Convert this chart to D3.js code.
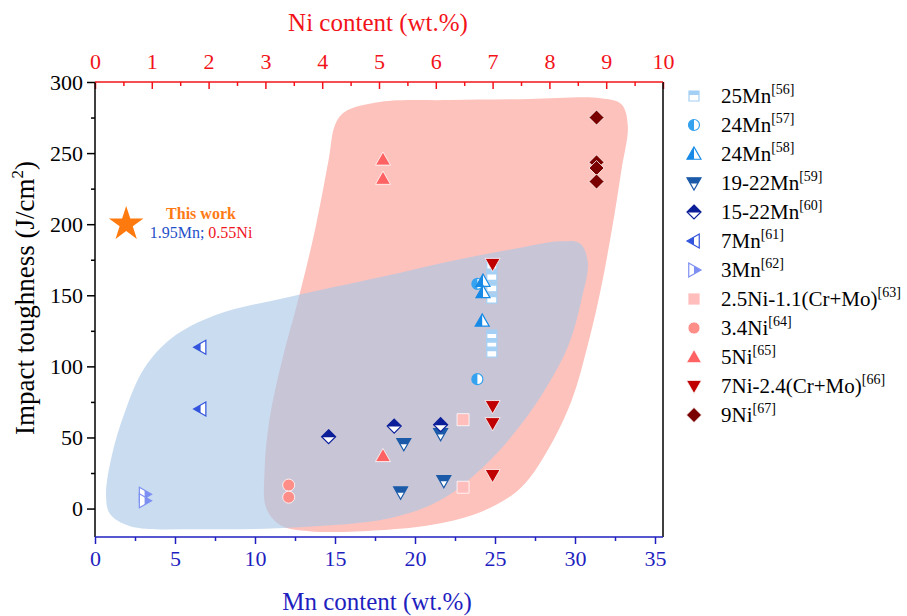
<!DOCTYPE html>
<html><head><meta charset="utf-8">
<script src="https://cdn.jsdelivr.net/npm/d3@7"></script>
<style>body{margin:0;background:#fff}</style>
</head><body>
<svg id="chart" width="907" height="616"></svg>
<script>
// Mn steels: [Mn wt.%, impact toughness J/cm2]
const mn25 = [[24.8,172],[24.8,164],[24.8,156],[24.8,148],[24.8,122],[24.8,116],[24.8,110]];
const mn24a = [[23.9,158],[23.9,91]];
const mn24b = [[24.25,160],[24.25,152],[24.2,132]];
const mn19_22 = [[19.3,45.5],[19.1,11.5],[21.8,19.5],[21.6,52.5]];
const mn15_22 = [[14.6,50.5],[18.7,58],[21.6,59]];
const mn7 = [[6.6,113.5],[6.6,70]];
const mn3 = [[3.1,10],[3.1,5.5]];
// Ni steels: [Ni wt.%, impact toughness J/cm2]
const ni25 = [[6.48,62.5],[6.48,15]];
const ni34 = [[3.41,16.5],[3.41,8]];
const ni5 = [[5.07,245.5],[5.07,232],[5.07,37]];
const ni7 = [[7.0,172],[7.0,72],[7.0,60],[7.0,23.5]];
const ni9 = [[8.83,275],[8.83,243.5],[8.83,239.5],[8.83,230]];
// This work
const thisWork = [1.95, 200];

// Axis ticks
const mnTicks = [0,5,10,15,20,25,30,35];
const niTicks = [0,1,2,3,4,5,6,7,8,9,10];
const tTicks = [0,50,100,150,200,250,300];

// Legend entries
const names = ["25Mn","24Mn","24Mn","19-22Mn","15-22Mn","7Mn","3Mn","2.5Ni-1.1(Cr+Mo)","3.4Ni","5Ni","7Ni-2.4(Cr+Mo)","9Ni"];
const refs = ["56","57","58","59","60","61","62","63","64","65","66","67"];

// Outlines of the Mn-steel and Ni-steel regions, in (Mn wt.%, toughness)
const mnRegion = [[0.69,9.6],[1.06,37.7],[1.9,69],[3.1,99],[4.8,120],[7.5,136],[12.2,149],[17.8,162.7],[22.2,174],[25.9,182],[29.1,188],[30.3,186.6],[30.8,173.4],[30.4,146.7],[29.6,115],[28.3,86.9],[26.6,58.8],[24.4,30.7],[21.6,6],[18.4,-6.8],[12.8,-13.1],[6.6,-14.5],[2.2,-12.4],[0.94,-3.9]];
const niRegion = [[15.6,278.9],[17.8,285.9],[22.2,287.3],[27.2,288],[31.6,288.6],[32.9,284.4],[33.3,269.6],[32.9,238],[32.3,195.9],[31.6,153.7],[30.8,115],[29.8,76.4],[28.3,41.2],[26.6,14.5],[24.4,-1],[21.6,-10.3],[17.8,-15.2],[13.4,-15.9],[11.6,-11.7],[10.7,0.4],[10.6,27.1],[10.9,62.4],[11.7,104.6],[12.7,146.8],[13.75,196],[14.6,245.1],[15,269.7]];

const W = 907, H = 616;
const L = 95, R = 663, T = 82, B = 537;
const x = d3.scaleLinear().domain([0, 35.5]).range([L, R]);
const xNi = d3.scaleLinear().domain([0, 10]).range([L, R]);
const y = d3.scaleLinear().domain([-20, 300]).range([B, T]);

const RED = "#f2131a", BLUE = "#1f1fc0";
const FONT = "'Liberation Serif','Times New Roman',serif";

const svg = d3.select("#chart");
svg.append("rect").attr("width", W).attr("height", H).attr("fill", "#fff");

const defs = svg.append("defs");
defs.append("clipPath").attr("id","plotclip").append("rect").attr("x",L).attr("y",T).attr("width",R-L).attr("height",B-T);
[["hLeft",-10,-10,10,20],["hRight",0,-10,10,20],["hTop",-10,-10,20,10.5],["hTopSq",-10,-10,20,9]].forEach(([id,a,b,c,d]) => {
  defs.append("clipPath").attr("id", id).append("rect").attr("x",a).attr("y",b).attr("width",c).attr("height",d);
});

// Regions
const area = d3.line().x(d => x(d[0])).y(d => y(d[1])).curve(d3.curveCatmullRomClosed.alpha(0.5));
svg.append("path").attr("d", area(niRegion)).attr("fill", "#fdc2bc");
svg.append("path").attr("d", area(mnRegion)).attr("fill", "rgb(170,200,232)").attr("fill-opacity", 0.63);

// Marker shapes centred on 0,0
const shapes = {
  square: s => `M${-s},${-s}H${s}V${s}H${-s}Z`,
  circle: s => `M${-s},0A${s},${s} 0 1,1 ${s},0A${s},${s} 0 1,1 ${-s},0Z`,
  up: s => `M0,${-s}L${s},${s*0.75}L${-s},${s*0.75}Z`,
  down: s => `M${-s},${-s*0.75}L${s},${-s*0.75}L0,${s}Z`,
  left: s => `M${-s},0L${s*0.75},${-s}L${s*0.75},${s}Z`,
  right: s => `M${s},0L${-s*0.75},${-s}L${-s*0.75},${s}Z`,
  diamond: s => `M0,${-s}L${s},0L0,${s}L${-s},0Z`
};

const series = [
  {data: mn25, ax: x, shape: "square", s: 5, color: "#a3d0f4", half: "hTopSq"},
  {data: mn24a, ax: x, shape: "circle", s: 5.5, color: "#35a2ef", half: "hLeft"},
  {data: mn24b, ax: x, shape: "up", s: 7, color: "#168ae6", half: "hLeft"},
  {data: mn19_22, ax: x, shape: "down", s: 7, color: "#1a5aa8", half: "hTop"},
  {data: mn15_22, ax: x, shape: "diamond", s: 7, color: "#0c1f98", half: "hTop"},
  {data: mn7, ax: x, shape: "left", s: 7, color: "#3354dc", half: "hLeft"},
  {data: mn3, ax: x, shape: "right", s: 7, color: "#7d8ff2", half: "hRight"},
  {data: ni25, ax: xNi, shape: "square", s: 6, color: "#ffbdbb", half: null},
  {data: ni34, ax: xNi, shape: "circle", s: 6, color: "#ff8d88", half: null},
  {data: ni5, ax: xNi, shape: "up", s: 7.5, color: "#ff6262", half: null},
  {data: ni7, ax: xNi, shape: "down", s: 7.5, color: "#c00000", half: null},
  {data: ni9, ax: xNi, shape: "diamond", s: 7.5, color: "#7a0000", half: null}
];

function drawMarker(g, d) {
  const p = shapes[d.shape](d.s);
  if (d.half) {
    g.append("path").attr("d", p).attr("fill", "#fff").attr("stroke", d.color).attr("stroke-width", 1.2);
    g.append("path").attr("d", p).attr("fill", d.color).attr("clip-path", `url(#${d.half})`);
  } else {
    g.append("path").attr("d", p).attr("fill", d.color).attr("stroke", "#fff").attr("stroke-width", 0.8);
  }
}

const marks = svg.append("g").attr("clip-path", "url(#plotclip)");
series.forEach(sr => {
  sr.data.forEach(pt => {
    const g = marks.append("g").attr("transform", `translate(${sr.ax(pt[0])},${y(pt[1])})`);
    drawMarker(g, sr);
  });
});

// Star for this work
svg.append("path")
  .attr("d", d3.symbol(d3.symbolStar, 370)())
  .attr("transform", `translate(${x(thisWork[0])},${y(thisWork[1])})`)
  .attr("fill", "#ff7a0e");
svg.append("text").attr("x", 201).attr("y", 219).attr("text-anchor", "middle")
  .attr("font-family", FONT).attr("font-size", 16).attr("font-weight", "bold").attr("fill", "#ff7a14").text("This work");
const tw = svg.append("text").attr("x", 201).attr("y", 238).attr("text-anchor", "middle")
  .attr("font-family", FONT).attr("font-size", 16);
tw.append("tspan").attr("fill", "#1f4fc8").text("1.95Mn; ");
tw.append("tspan").attr("fill", "#f0141e").text("0.55Ni");

// Axes
function styleAxis(g, color, size) {
  g.select(".domain").remove();
  g.selectAll(".tick line").attr("stroke", color).attr("stroke-width", 1.5);
  g.selectAll(".tick text").attr("fill", color).attr("font-family", FONT).attr("font-size", size);
}
const minorT = d3.range(25, 300, 50);
const minorMn = d3.range(2.5, 35, 5);
const minorNi = d3.range(0.5, 10, 1);

const gl = svg.append("g").attr("transform", `translate(${L},0)`)
  .call(d3.axisLeft(y).tickValues(tTicks).tickSize(8).tickPadding(4));
styleAxis(gl, "#000", 22);
const glm = svg.append("g").attr("transform", `translate(${L},0)`)
  .call(d3.axisLeft(y).tickValues(minorT).tickSize(4).tickFormat(""));
styleAxis(glm, "#000", 22);

const gb = svg.append("g").attr("transform", `translate(0,${B})`)
  .call(d3.axisBottom(x).tickValues(mnTicks).tickSize(7).tickPadding(6));
styleAxis(gb, BLUE, 22);
const gbm = svg.append("g").attr("transform", `translate(0,${B})`)
  .call(d3.axisBottom(x).tickValues(minorMn).tickSize(4).tickFormat(""));
styleAxis(gbm, BLUE, 22);

const gt = svg.append("g").attr("transform", `translate(0,${T})`)
  .call(d3.axisTop(xNi).tickValues(niTicks).tickSize(-7).tickPadding(13));
styleAxis(gt, RED, 22);
const gtm = svg.append("g").attr("transform", `translate(0,${T})`)
  .call(d3.axisTop(xNi).tickValues(minorNi).tickSize(-4).tickFormat(""));
styleAxis(gtm, RED, 22);

// Frame lines
svg.append("line").attr("x1", L).attr("x2", L).attr("y1", T).attr("y2", B).attr("stroke", "#000").attr("stroke-width", 1.5);
svg.append("line").attr("x1", R).attr("x2", R).attr("y1", T).attr("y2", B).attr("stroke", "#000").attr("stroke-width", 1.5);
svg.append("line").attr("x1", L).attr("x2", R).attr("y1", B).attr("y2", B).attr("stroke", BLUE).attr("stroke-width", 1.5);
svg.append("line").attr("x1", L).attr("x2", R).attr("y1", T).attr("y2", T).attr("stroke", RED).attr("stroke-width", 1.5);

// Axis titles
svg.append("text").attr("x", (L+R)/2 - 1).attr("y", 31).attr("text-anchor", "middle")
  .attr("font-family", FONT).attr("font-size", 25).attr("fill", RED).text("Ni content (wt.%)");
svg.append("text").attr("x", (L+R)/2 - 2).attr("y", 610).attr("text-anchor", "middle")
  .attr("font-family", FONT).attr("font-size", 25).attr("fill", BLUE).text("Mn content (wt.%)");
const yt = svg.append("text").attr("transform", `translate(34,298) rotate(-90)`).attr("text-anchor", "middle")
  .attr("font-family", FONT).attr("font-size", 27).attr("fill", "#000");
yt.append("tspan").text("Impact toughness (J/cm");
yt.append("tspan").attr("font-size", 17).attr("dy", -11).text("2");
yt.append("tspan").attr("dy", 11).text(")");

// Legend
const lg = svg.append("g");
series.forEach((sr, i) => {
  const cy = 96 + i * 29;
  const g = lg.append("g").attr("transform", `translate(694,${cy})`);
  drawMarker(g, sr);
  const t = lg.append("text").attr("x", 721).attr("y", cy + 7).attr("font-family", FONT).attr("font-size", 21).attr("fill", "#000");
  t.append("tspan").text(names[i]);
  t.append("tspan").attr("font-size", 14).attr("dy", -9).text(`[${refs[i]}]`);
});
</script>
</body></html>
